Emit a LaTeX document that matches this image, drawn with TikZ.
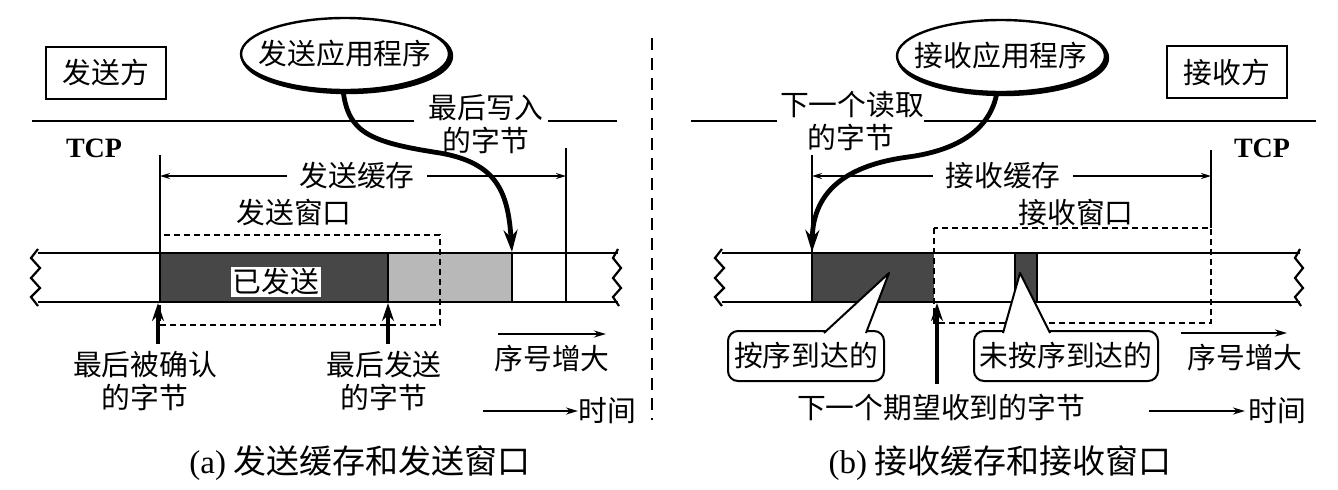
\documentclass[tikz,border=0pt]{standalone}
\usepackage{fontspec}
\setmainfont{Liberation Serif}
\newfontfamily\cjk{Noto Sans CJK SC}
\usetikzlibrary{arrows.meta,shapes.geometric}
\tikzset{
  cn/.style={font=\cjk\fontsize{14.4}{16.5}\selectfont, inner sep=1pt, align=center},
  tcp/.style={font=\bfseries\fontsize{14}{16}\selectfont, inner sep=0pt},
  captext/.style={font=\cjk\fontsize{16.5}{19}\selectfont, inner sep=0pt},
  stripline/.style={line width=1.4pt},
  thinv/.style={line width=0.7pt},
  topline/.style={line width=1pt},
  dwin/.style={line width=0.9pt, dash pattern=on 3pt off 2pt},
  bigarrow/.style={line width=2.4pt, -{Stealth[length=11pt,width=7pt]}},
  uparrow/.style={line width=2pt, -{Stealth[length=9pt,width=6pt]}},
  smallarrow/.style={line width=1pt, -{Stealth[length=6pt,width=3.5pt]}},
  bufarrow/.style={line width=0.8pt, {Stealth[length=5pt,width=3pt]}-{Stealth[length=5pt,width=3pt]}},
  labelbox/.style={cn, draw, line width=1.4pt, minimum width=60pt, minimum height=26pt},
  appshadow/.style={line width=2.2pt},
  appline/.style={line width=1.2pt, fill=white},
  callout/.style={cn, draw, line width=1pt, rounded corners=5pt, minimum height=25pt, fill=white},
  darkfill/.style={fill=black!72},
  lightfill/.style={fill=black!28}
}
\begin{document}
\begin{tikzpicture}[x=0.5pt,y=-0.5pt]
\useasboundingbox (0,0) rectangle (1338,489);

% ================= LEFT (sender) =================
\node[labelbox] (sbox) at (106,73) {发送方};
\draw[appshadow] (347,56) ellipse (104 and 36);
\draw[appline] (345,54) ellipse (104 and 36);
\node[cn] (sapp) at (345,54) {发送应用程序};
\coordinate (sappb) at (343,90);
\node[cn] (lastw1) at (486,108) {最后写入};
\node[cn] (lastw2) at (486,140) {的字节};
\coordinate (tlA) at (32,121); \coordinate (tlB) at (414,121);
\coordinate (tlC) at (548,121); \coordinate (tlD) at (617,121);
\draw[topline] (tlA) -- (tlB);
\draw[topline] (tlC) -- (tlD);
\node[tcp] (stcp) at (94,148) {TCP};

% strip fills
\coordinate (sd1) at (160,253); \coordinate (sd2) at (388,302);
\coordinate (sl1) at (388,253); \coordinate (sl2) at (512,302);
\fill[darkfill] (sd1) rectangle (sd2);
\fill[lightfill] (sl1) rectangle (sl2);
\draw[stripline] (38,253) -- (618,253);
\draw[stripline] (38,302) -- (618,302);
\draw[line width=1.1pt] (38,249) -- (31,258) -- (40,268) -- (31,278) -- (40,288) -- (31,297) -- (38,306);
\draw[line width=1.1pt] (618,249) -- (613,258) -- (621,268) -- (613,278) -- (621,288) -- (613,297) -- (619,306);
\draw[line width=1pt] (388,253) -- (388,302);
\draw[line width=1.2pt] (512,253) -- (512,302);

% buffer lines
\coordinate (sb1t) at (160,155); \coordinate (sb1b) at (160,302);
\coordinate (sb2t) at (566,148); \coordinate (sb2b) at (566,302);
\draw[thinv] (sb1t) -- (sb1b);
\draw[thinv] (sb2t) -- (sb2b);
\coordinate (sbufL) at (160,176); \coordinate (sbufR) at (566,176);
\draw[bufarrow] (sbufL) -- (sbufR);
\node[cn, fill=white, inner xsep=6pt] (sbuf) at (357,176) {发送缓存};
\node[cn] (swin) at (294,213) {发送窗口};
\coordinate (sw1) at (160,235); \coordinate (sw2) at (440,325);
\draw[dwin] (sw1) rectangle (sw2);
\node[cn, fill=white, inner sep=1pt] (sent) at (276,282) {已发送};

% curved arrow from application
\coordinate (swrite) at (512,252);
\draw[bigarrow] (sappb) .. controls (348,132) and (368,142) .. (440,153)
  .. controls (497,163) and (508,192) .. (swrite);

% bottom arrows and labels
\coordinate (ack0) at (158,344); \coordinate (ack1) at (158,303);
\coordinate (snd0) at (388,344); \coordinate (snd1) at (388,303);
\draw[uparrow] (ack0) -- (ack1);
\draw[uparrow] (snd0) -- (snd1);
\node[cn] (lack) at (145,381) {最后被确认\\的字节};
\node[cn] (lsnd) at (384,381) {最后发送\\的字节};
\coordinate (sq0) at (498,334); \coordinate (sq1) at (606,334);
\draw[smallarrow] (sq0) -- (sq1);
\node[cn] (sseq) at (552,359) {序号增大};
\coordinate (st0) at (483,411); \coordinate (st1) at (578,411);
\draw[smallarrow] (st0) -- (st1);
\node[cn, anchor=west, inner xsep=0pt] (stime) at (578,411) {时间};
\node[captext] (capa) at (360,463) {{\rmfamily\fontsize{16.5}{19}\selectfont (a)} 发送缓存和发送窗口};

% divider
\coordinate (dv0) at (652,38); \coordinate (dv1) at (652,420);
\draw[line width=1.2pt, dash pattern=on 6pt off 4pt] (dv0) -- (dv1);

% ================= RIGHT (receiver) =================
\draw[appshadow] (1003,58) ellipse (104 and 36);
\draw[appline] (1001,56) ellipse (104 and 36);
\node[cn] (rapp) at (1001,56) {接收应用程序};
\coordinate (rappb) at (997,92);
\node[labelbox] (rbox) at (1227,72) {接收方};
\node[cn] (nr1) at (852,105) {下一个读取};
\node[cn] (nr2) at (851,137) {的字节};
\coordinate (rlA) at (691,121); \coordinate (rlB) at (777,121);
\coordinate (rlC) at (924,121); \coordinate (rlD) at (1316,121);
\draw[topline] (rlA) -- (rlB);
\draw[topline] (rlC) -- (rlD);
\node[tcp] (rtcp) at (1262,148) {TCP};

% strip
\coordinate (rd1) at (812,253); \coordinate (rd2) at (934,302);
\coordinate (rs1) at (1015,253); \coordinate (rs2) at (1037,302);
\fill[darkfill] (rd1) rectangle (rd2);
\fill[darkfill] (rs1) rectangle (rs2);
\draw[stripline] (722,253) -- (1300,253);
\draw[stripline] (722,302) -- (1300,302);
\draw[line width=1.1pt] (722,249) -- (715,258) -- (724,268) -- (715,278) -- (724,288) -- (715,297) -- (722,306);
\draw[line width=1.1pt] (1300,249) -- (1295,258) -- (1303,268) -- (1295,278) -- (1303,288) -- (1295,297) -- (1301,306);
\draw[line width=0.8pt] (1015,253) -- (1015,302);
\draw[line width=0.8pt] (1037,253) -- (1037,302);

% buffer lines
\coordinate (rb1t) at (812,155); \coordinate (rb1b) at (812,302);
\coordinate (rb2t) at (1211,150); \coordinate (rb2b) at (1211,228);
\draw[thinv] (rb1t) -- (rb1b);
\draw[thinv] (rb2t) -- (rb2b);
\coordinate (rbufL) at (812,176); \coordinate (rbufR) at (1211,176);
\draw[bufarrow] (rbufL) -- (rbufR);
\node[cn, fill=white, inner xsep=6pt] (rbuf) at (1003,176) {接收缓存};
\node[cn] (rwin) at (1076,213) {接收窗口};
\coordinate (rw1) at (934,228); \coordinate (rw2) at (1211,323);
\draw[dwin] (rw1) rectangle (rw2);

% curved arrow to next read byte
\coordinate (rread) at (812,252);
\draw[bigarrow] (rappb) .. controls (991,128) and (960,150) .. (908,157)
  .. controls (848,165) and (813,190) .. (rread);

% callouts
\node[callout, minimum width=78pt] (cin) at (806,356) {按序到达的};
\coordinate (cinb1) at (824,333); \coordinate (cintip) at (889,273); \coordinate (cinb2) at (866,333);
\fill[white] (cinb1) -- (cintip) -- (cinb2) -- cycle;
\draw[line width=1pt, line join=round] (cinb1) -- (cintip) -- (cinb2);
\node[callout, minimum width=92pt] (cout) at (1066,356) {未按序到达的};
\coordinate (coutb1) at (1003,333); \coordinate (couttip) at (1020,273); \coordinate (coutb2) at (1050,333);
\fill[white] (coutb1) -- (couttip) -- (coutb2) -- cycle;
\draw[line width=1pt, line join=round] (coutb1) -- (couttip) -- (coutb2);

% expected byte arrow
\coordinate (ex0) at (937,384); \coordinate (ex1) at (937,303);
\draw[uparrow] (ex0) -- (ex1);
\node[cn] (lexp) at (941,408) {下一个期望收到的字节};

\coordinate (rq0) at (1181,333); \coordinate (rq1) at (1287,333);
\draw[smallarrow] (rq0) -- (rq1);
\node[cn] (rseq) at (1245,358) {序号增大};
\coordinate (rt0) at (1149,411); \coordinate (rt1) at (1245,411);
\draw[smallarrow] (rt0) -- (rt1);
\node[cn, anchor=west, inner xsep=0pt] (rtime) at (1248,411) {时间};
\node[captext] (capb) at (1000,463) {{\rmfamily\fontsize{16.5}{19}\selectfont (b)} 接收缓存和接收窗口};
\end{tikzpicture}
\end{document}
